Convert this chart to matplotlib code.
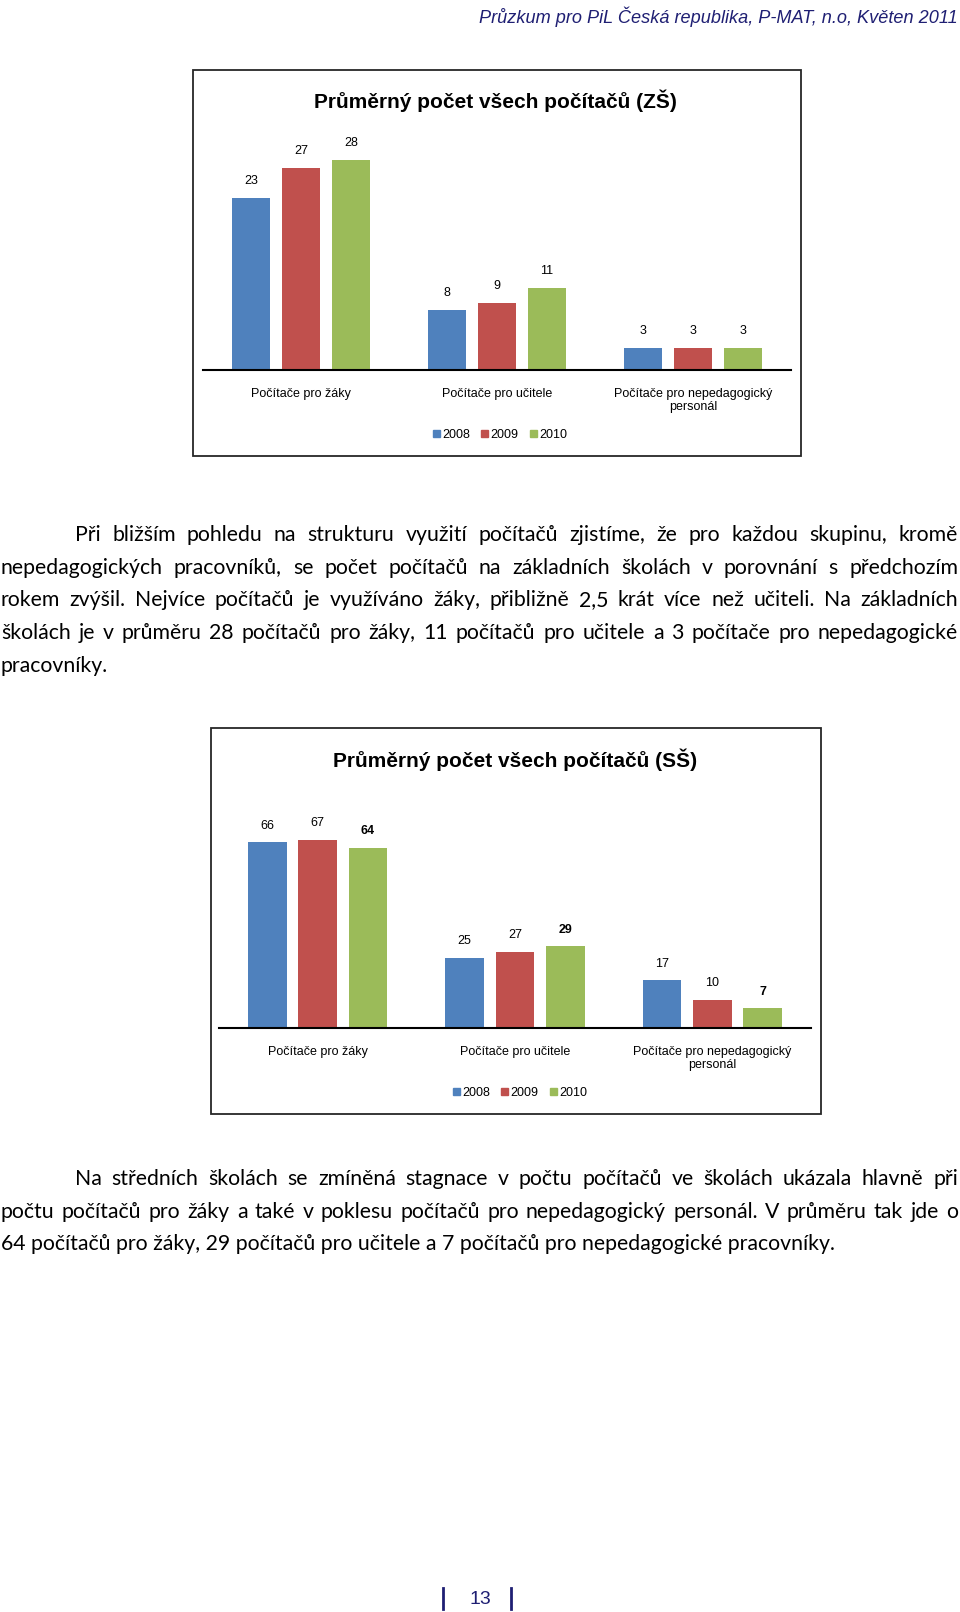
import matplotlib
matplotlib.use('Agg')
import matplotlib.pyplot as plt
from matplotlib.patches import Rectangle, Patch
from matplotlib.lines import Line2D
import numpy as np

W, H = 960, 1612

# ---- data ----
categories = ['Počítače pro žáky', 'Počítače pro učitele',
              'Počítače pro nepedagogický\npersonál']
years = ['2008', '2009', '2010']
colors = ['#4F81BD', '#C0504D', '#9BBB59']

zs_2008 = [23, 8, 3]
zs_2009 = [27, 9, 3]
zs_2010 = [28, 11, 3]

ss_2008 = [66, 25, 17]
ss_2009 = [67, 27, 10]
ss_2010 = [64, 29, 7]

title_zs = 'Průměrný počet všech počítačů (ZŠ)'
title_ss = 'Průměrný počet všech počítačů (SŠ)'
header = 'Průzkum pro PiL Česká republika, P-MAT, n.o, Květen 2011'
page_no = '13'

para1 = [
    'Při bližším pohledu na strukturu využití počítačů zjistíme, že pro každou skupinu, kromě',
    'nepedagogických pracovníků, se počet počítačů na základních školách v porovnání s předchozím',
    'rokem zvýšil. Nejvíce počítačů je využíváno žáky, přibližně 2,5 krát více než učiteli. Na základních',
    'školách je v průměru 28 počítačů pro žáky, 11 počítačů pro učitele a 3 počítače pro nepedagogické',
    'pracovníky.',
]
para2 = [
    'Na středních školách se zmíněná stagnace v počtu počítačů ve školách ukázala hlavně při',
    'počtu počítačů pro žáky a také v poklesu počítačů pro nepedagogický personál. V průměru tak jde o',
    '64 počítačů pro žáky, 29 počítačů pro učitele a 7 počítačů pro nepedagogické pracovníky.',
]

NAVY = '#1F1F73'
CHART_FONT = 'Liberation Sans'
BODY_FONT = 'Lato'
BODY_SIZE = 15.3


def fx(x):
    return x / W


def fy(y):
    return 1 - y / H


def add_chart(fig, box, ax_px, title, title_pos, series, ymax, legend_pos, bold_last=False):
    l, t, r, b = box
    fig.patches.append(Rectangle((fx(l), fy(b)), (r - l) / W, (b - t) / H,
                                 transform=fig.transFigure, fill=False,
                                 ec='#262626', lw=1.3))
    al, at, ar, ab = ax_px
    ax = fig.add_axes([fx(al), fy(ab), (ar - al) / W, (ab - at) / H])
    x = np.arange(len(categories))
    for i, (vals, col) in enumerate(zip(series, colors)):
        bars = ax.bar(x + (i - 1) * 0.255, vals, width=0.195, color=col, label=years[i])
        for rect, v in zip(bars, vals):
            bold = bold_last and i == len(series) - 1
            ax.annotate(str(v), (rect.get_x() + rect.get_width() / 2, v),
                        xytext=(0, 12), textcoords='offset points',
                        ha='center', va='center', fontsize=9,
                        family=CHART_FONT,
                        fontweight='bold' if bold else 'normal')
    ax.set_xlim(-0.5, len(categories) - 0.5)
    ax.set_ylim(0, ymax)
    ax.set_xticks(x)
    ax.set_xticklabels(categories, family=CHART_FONT, fontsize=9, linespacing=1.15)
    ax.tick_params(axis='x', length=0, pad=13)
    ax.set_yticks([])
    for s in ['top', 'left', 'right']:
        ax.spines[s].set_visible(False)
    ax.spines['bottom'].set_linewidth(1.5)
    ax.spines['bottom'].set_color('black')
    ax.patch.set_alpha(0)

    fig.text(fx(title_pos[0]), fy(title_pos[1]), title, ha='center', va='center',
             fontsize=15, fontweight='bold', family=CHART_FONT)
    handles = [Patch(color=c, label=y) for c, y in zip(colors, years)]
    fig.legend(handles=handles, loc='center',
               bbox_to_anchor=(fx(legend_pos[0]), fy(legend_pos[1])),
               ncol=3, frameon=False, handlelength=0.55, handleheight=0.55,
               handletextpad=0.2, columnspacing=0.9,
               prop={'family': CHART_FONT, 'size': 9})
    return ax


def draw_paragraph(fig, renderer, lines, y0, dy, indent, x0=1, x1=958):
    for k, line in enumerate(lines):
        y = y0 + k * dy
        left = x0 + (indent if k == 0 else 0)
        if k == len(lines) - 1:
            fig.text(fx(left), fy(y), line, ha='left', va='baseline',
                     family=BODY_FONT, fontsize=BODY_SIZE)
            continue
        words = line.split()
        texts = [fig.text(0, fy(y), w, ha='left', va='baseline',
                          family=BODY_FONT, fontsize=BODY_SIZE) for w in words]
        widths = [tx.get_window_extent(renderer).width for tx in texts]
        gap = (x1 - left - sum(widths)) / (len(words) - 1)
        pos = left
        for tx, w in zip(texts, widths):
            tx.set_x(fx(pos))
            pos += w + gap


fig = plt.figure(figsize=(W / 100, H / 100), dpi=100)
fig.patch.set_facecolor('white')
renderer = fig.canvas.get_renderer()

# header
fig.text(fx(958), fy(17), header, ha='right', va='center', style='italic',
         color=NAVY, fontsize=13.1, family=CHART_FONT)

# chart 1 (ZŠ)
add_chart(fig, (193, 70, 801, 456), (203, 130, 791, 370), title_zs, (495, 101),
          [zs_2008, zs_2009, zs_2010], 32, (500, 435))

# chart 2 (SŠ)
add_chart(fig, (211, 728, 821, 1114), (219, 803, 811, 1028), title_ss, (515, 760),
          [ss_2008, ss_2009, ss_2010], 80, (520, 1093), bold_last=True)

# paragraphs
draw_paragraph(fig, renderer, para1, 541, 32.7, 74)
draw_paragraph(fig, renderer, para2, 1185, 32.7, 74)

# page number
fig.text(fx(480), fy(1599), page_no, ha='center', va='center', color=NAVY,
         fontsize=14, family=CHART_FONT)
for xb in (443, 511):
    fig.add_artist(Line2D([fx(xb), fx(xb)], [fy(1588), fy(1609)],
                          transform=fig.transFigure, color=NAVY, lw=2))

fig.savefig('out.png', dpi=100)
